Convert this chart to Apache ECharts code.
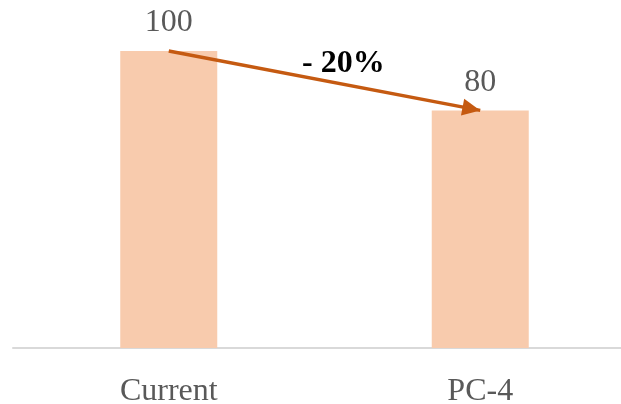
<!DOCTYPE html>
<html>
<head>
<meta charset="utf-8">
<script src="https://cdn.jsdelivr.net/npm/echarts@6/dist/echarts.min.js"></script>
<style>html,body{margin:0;padding:0;background:#fff}#c{width:621px;height:404px}</style>
</head>
<body>
<div id="c"></div>
<script>
const categories = ['Current', 'PC-4'];
const values = [100, 80];
const changeLabel = '- 20%';

const chart = echarts.init(document.getElementById('c'), null, {renderer: 'canvas'});
const serif = 'Liberation Serif';
chart.setOption({
  animation: false,
  grid: {left: 13, width: 623, top: 51, bottom: 56, outerBoundsMode: 'none', containLabel: false},
  xAxis: {
    type: 'category',
    data: categories,
    axisLine: {show: true, lineStyle: {color: '#D9D9D9', width: 2}},
    axisTick: {show: false},
    axisLabel: {color: '#595959', fontFamily: serif, fontSize: 32, margin: 28}
  },
  yAxis: {
    type: 'value', min: 0, max: 100, show: false,
    splitLine: {show: false}
  },
  series: [{
    type: 'bar',
    data: values,
    barWidth: 97,
    itemStyle: {color: '#F8CBAD'},
    label: {
      show: true, position: 'top', distance: 12,
      color: '#595959', fontFamily: serif, fontSize: 32
    },
    markLine: {
      silent: true,
      symbol: ['none', 'triangle'],
      symbolSize: [17, 18],
      symbolOffset: [0, [0, 9]],
      lineStyle: {color: '#C55A11', width: 3.5, type: 'solid'},
      label: {show: false},
      data: [[
        {coord: [categories[0], values[0]]},
        {coord: [categories[1], values[1]]}
      ]]
    }
  }],
  graphic: [{
    type: 'text',
    left: 302, top: 48,
    style: {
      text: changeLabel,
      fill: '#000',
      font: 'bold 32px "Liberation Serif"'
    }
  }]
});
</script>
</body>
</html>
